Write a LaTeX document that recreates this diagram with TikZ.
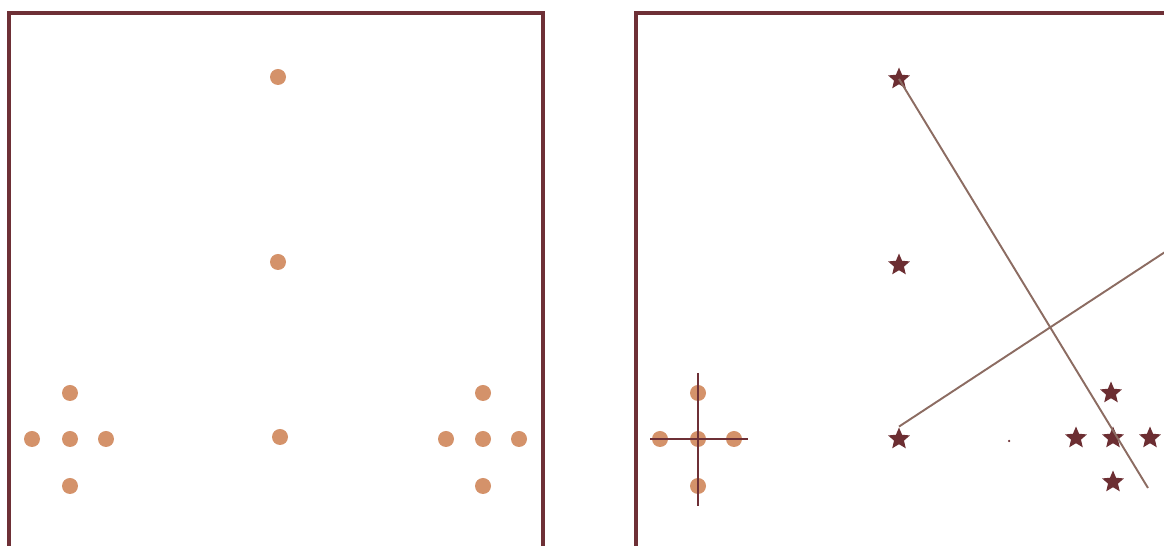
\documentclass[tikz,border=0pt]{standalone}
\usepackage{tikz}
\usetikzlibrary{shapes.geometric}

\definecolor{frame}{RGB}{110,48,54}
\definecolor{dotc}{RGB}{212,146,106}
\definecolor{starc}{RGB}{108,46,50}
\definecolor{linec}{RGB}{140,108,98}

\tikzset{
  pt/.style={circle, fill=dotc, inner sep=0pt, minimum size=16*0.02cm},
  st/.style={star, star points=5, star point ratio=2.2, fill=starc, inner sep=0pt, minimum size=23*0.02cm},
  frm/.style={draw=frame, line width=2pt},
  ln/.style={draw=linec, line width=1.1pt}
}

\begin{document}
\begin{tikzpicture}[x=0.02cm, y=-0.02cm]

\useasboundingbox (0,0) rectangle (1164,546);
\clip (0,0) rectangle (1164,546);

% Two frames
\draw[frm] (9,13) rectangle (543,600);
\draw[frm] (636,13) rectangle (1220,600);

% Left frame: column of dots
\node[pt] (a1) at (278,77) {};
\node[pt] (a2) at (278,262) {};
\node[pt] (a3) at (280,437) {};

% Left frame: two crosses of dots
\node[pt] (b0) at (70,439) {};
\node[pt] (bn) at (70,393) {};
\node[pt] (bs) at (70,486) {};
\node[pt] (bw) at (32,439) {};
\node[pt] (be) at (106,439) {};

\node[pt] (c0) at (483,439) {};
\node[pt] (cn) at (483,393) {};
\node[pt] (cs) at (483,486) {};
\node[pt] (cw) at (446,439) {};
\node[pt] (ce) at (519,439) {};

% Right frame: cross of dots with axes
\node[pt] (d0) at (698,439) {};
\node[pt] (dn) at (698,393) {};
\node[pt] (ds) at (698,486) {};
\node[pt] (dw) at (660,439) {};
\node[pt] (de) at (734,439) {};

\coordinate (dtop) at (698,373);
\coordinate (dbot) at (698,506);
\coordinate (dlft) at (650,439);
\coordinate (drgt) at (748,439);
\draw[draw=frame, line width=1pt] (dtop) -- (dbot);
\draw[draw=frame, line width=1pt] (dlft) -- (drgt);

% Right frame: stars
\node[st] (s1) at (899,79) {};
\node[st] (s2) at (899,265) {};
\node[st] (s3) at (899,439) {};

\node[st] (t0) at (1113,438) {};
\node[st] (tn) at (1111,393) {};
\node[st] (ts) at (1113,482) {};
\node[st] (tw) at (1076,438) {};
\node[st] (te) at (1150,438) {};

\node[circle, fill=starc, inner sep=0pt, minimum size=2.5*0.02cm] (p) at (1009,441) {};

% Two crossing lines
\coordinate (l1end) at (1148,488);
\coordinate (l2end) at (1194,233);
\draw[ln] (s1.center) -- (l1end);
\draw[ln] (s3.north) -- (l2end);

\end{tikzpicture}
\end{document}
